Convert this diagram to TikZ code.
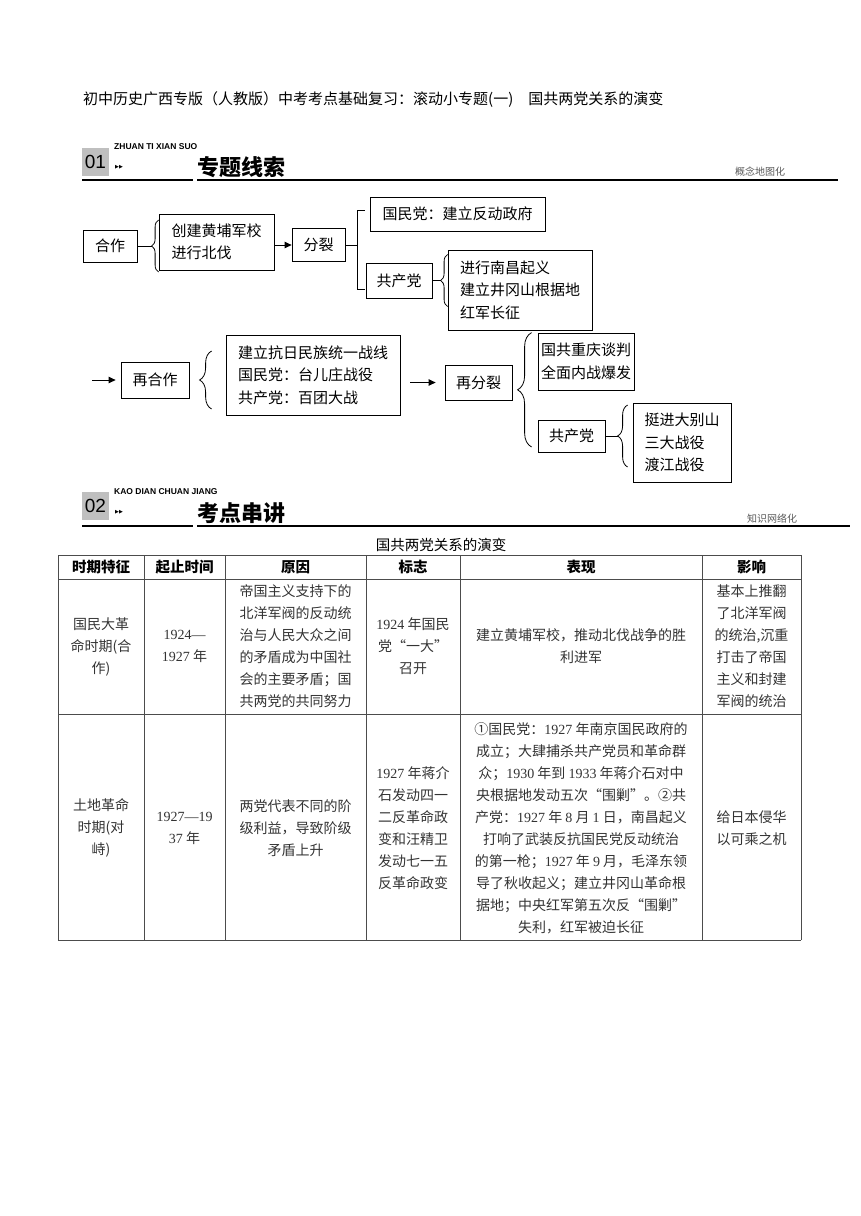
\documentclass[tikz,border=0pt]{standalone}
\usepackage{fontspec}
\setmainfont{Noto Sans CJK SC}
\newfontfamily\tmfont{Liberation Serif}
\newfontfamily\hdfont{Liberation Sans}
\newfontfamily\symfont{DejaVu Sans}
\usetikzlibrary{arrows.meta,decorations.pathreplacing,positioning}

\newcommand\lat[1]{{\tmfont #1}}

\begin{document}
\begin{tikzpicture}[x=1pt, y=-1pt,
    box/.style={draw, line width=0.8pt, inner sep=0pt, align=left, font=\fontsize{15}{22.5}\selectfont},
    arr/.style={-{Triangle[length=7pt,width=6.5pt]}, line width=1pt},
    brc/.style={decorate, decoration={brace, amplitude=#1}, line width=0.8pt},
    secbox/.style={fill=gray!50, minimum width=27, minimum height=28, inner sep=0pt, font=\hdfont\fontsize{19}{19}\selectfont},
    secpin/.style={anchor=west, inner sep=0pt, font=\hdfont\bfseries\fontsize{8.5}{9}\selectfont},
    sectitle/.style={anchor=base west, inner sep=0pt, font=\bfseries\fontsize{22}{22}\selectfont},
    sectag/.style={inner sep=0pt, text=black!65, font=\fontsize{10}{10}\selectfont},
    secline/.style={line width=1.5pt},
    th/.style={inner sep=0pt, font=\bfseries\fontsize{14.5}{20}\selectfont},
    td/.style={inner sep=0pt, align=center, text=black!80, font=\fontsize{14}{22}\selectfont}]
    \useasboundingbox (0,0) rectangle (860,1216);

    % Page title
    \node[anchor=west, inner sep=0pt, font=\fontsize{15}{15}\selectfont] (title) at (83,100)
        {初中历史广西专版（人教版）中考考点基础复习：滚动小专题(一)　国共两党关系的演变};

    % Section 01 header
    \node[secbox] (sec1) at (95.5,162) {01};
    \node[secpin] (pin1) at (114,147) {ZHUAN TI XIAN SUO};
    \node[anchor=west, inner sep=0pt, font=\symfont\fontsize{5}{5}\selectfont] (tri1) at (115,167) {▶▶};
    \node[sectitle] (name1) at (197,175) {专题线索};
    \node[sectag] (tag1) at (760,172) {概念地图化};
    \draw[secline] (82,180) -- (193,180);
    \draw[secline] (197,180) -- (838,180);

    % Part one: 合作 -> 分裂
    \node[box, minimum width=54, minimum height=32] (hezuo) at (110,246) {合作};
    \node[box, minimum width=115, minimum height=56] (huangpu) at (216.5,242) {创建黄埔军校\\进行北伐};
    \node[box, minimum width=53, minimum height=33] (fenlie) at (318.5,245) {分裂};
    \node[box, minimum width=175, minimum height=34] (gmd1) at (457.5,214) {国民党：建立反动政府};
    \node[box, minimum width=66, minimum height=35] (gcd1) at (399,280.5) {共产党};
    \node[box, minimum width=144, minimum height=80] (gcdact1) at (520,290) {进行南昌起义\\建立井冈山根据地\\红军长征};

    \coordinate (brA) at (hezuo.east -| huangpu.west);
    \draw[brc=7pt] ([yshift=-26]brA) -- ([yshift=26]brA);
    \draw[line width=0.8pt] (hezuo.east) -- ([xshift=-7]brA);
    \draw[arr] (fenlie.west -| huangpu.east) -- (fenlie.west);

    \coordinate (brB) at ([xshift=12]fenlie.east);
    \draw[line width=1pt] (fenlie.east) -- (brB);
    \draw[line width=1pt] ([xshift=-5,yshift=4]gmd1.west) -| (brB) |- ([xshift=-1,yshift=-9]gcd1.west);

    \coordinate (brC) at (gcd1.east -| gcdact1.west);
    \draw[brc=7pt] ([yshift=-26]brC) -- ([yshift=26]brC);
    \draw[line width=0.8pt] (gcd1.east) -- ([xshift=-7]brC);

    % Part two: 再合作 -> 再分裂
    \coordinate (st) at (92,380);
    \node[box, minimum width=68, minimum height=36] (zaihezuo) at (155,380) {再合作};
    \node[box, minimum width=174, minimum height=80] (kangri) at (313,375) {建立抗日民族统一战线\\国民党：台儿庄战役\\共产党：百团大战};
    \node[box, minimum width=67, minimum height=35] (zaifenlie) at (478.5,382.5) {再分裂};
    \node[box, minimum width=96, minimum height=57] (chongqing) at (586,361.5) {国共重庆谈判\\全面内战爆发};
    \node[box, minimum width=67, minimum height=32] (gcd2) at (571.5,436) {共产党};
    \node[box, minimum width=98, minimum height=79] (gcdact2) at (682,442.5) {挺进大别山\\三大战役\\渡江战役};

    \draw[arr, shorten >=5pt] (st) -- (zaihezuo.west);
    \coordinate (brD) at ([xshift=-14]zaihezuo.east -| kangri.west);
    \draw[brc=12pt] ([yshift=-29]brD) -- ([yshift=29]brD);
    \draw[arr, shorten <=10pt, shorten >=9pt] (zaifenlie.west -| kangri.east) -- (zaifenlie.west);

    \coordinate (brE) at ([xshift=-6]chongqing.west);
    \draw[brc=14pt] (brE |- 0,447) -- (brE |- chongqing.north);

    \coordinate (brF) at ([xshift=-5]gcd2.east -| gcdact2.west);
    \draw[brc=10pt] ([yshift=-31]brF) -- ([yshift=31]brF);
    \draw[line width=0.8pt] (gcd2.east) -- ([xshift=-10]brF);

    % Section 02 header
    \node[secbox] (sec2) at (95.5,506) {02};
    \node[secpin] (pin2) at (114,492) {KAO DIAN CHUAN JIANG};
    \node[anchor=west, inner sep=0pt, font=\symfont\fontsize{5}{5}\selectfont] (tri2) at (115,512) {▶▶};
    \node[sectitle] (name2) at (197,521) {考点串讲};
    \node[sectag] (tag2) at (772,519) {知识网络化};
    \draw[secline] (82,526) -- (193,526);
    \draw[secline] (197,526) -- (850,526);

    % Table
    \node[inner sep=0pt, font=\fontsize{14.5}{15}\selectfont] (tabtitle) at (441,545) {国共两党关系的演变};
    \foreach \x in {58,144,225,366,460,702,801}
        \draw[black!70, line width=0.9pt] (\x,555) -- (\x,940);
    \foreach \y in {555,579,714,940}
        \draw[black!70, line width=0.9pt] (58,\y) -- (801,\y);

    \foreach \x/\t [count=\i] in {101/时期特征, 184.5/起止时间, 295.5/原因, 413/标志, 581/表现, 751.5/影响}
        \node[th] (h\i) at (\x,567) {\t};

    \node[td] (r1c1) at (101,646.5) {国民大革\\命时期(合\\作)};
    \node[td] (r1c2) at (184.5,646.5) {\lat{1924—}\\\lat{1927} 年};
    \node[td] (r1c3) at (295.5,646.5) {帝国主义支持下的\\北洋军阀的反动统\\治与人民大众之间\\的矛盾成为中国社\\会的主要矛盾；国\\共两党的共同努力};
    \node[td] (r1c4) at (413,646.5) {\lat{1924} 年国民\\党“一大”\\召开};
    \node[td] (r1c5) at (581,646.5) {建立黄埔军校，推动北伐战争的胜\\利进军};
    \node[td] (r1c6) at (751.5,646.5) {基本上推翻\\了北洋军阀\\的统治,沉重\\打击了帝国\\主义和封建\\军阀的统治};

    \node[td] (r2c1) at (101,828) {土地革命\\时期(对\\峙)};
    \node[td] (r2c2) at (184.5,828) {\lat{1927—19}\\\lat{37} 年};
    \node[td] (r2c3) at (295.5,828) {两党代表不同的阶\\级利益，导致阶级\\矛盾上升};
    \node[td] (r2c4) at (413,828) {\lat{1927} 年蒋介\\石发动四一\\二反革命政\\变和汪精卫\\发动七一五\\反革命政变};
    \node[td] (r2c5) at (581,828) {①国民党：\lat{1927} 年南京国民政府的\\成立；大肆捕杀共产党员和革命群\\众；\lat{1930} 年到 \lat{1933} 年蒋介石对中\\央根据地发动五次“围剿”。②共\\产党：\lat{1927} 年 \lat{8} 月 \lat{1} 日，南昌起义\\打响了武装反抗国民党反动统治\\的第一枪；\lat{1927} 年 \lat{9} 月，毛泽东领\\导了秋收起义；建立井冈山革命根\\据地；中央红军第五次反“围剿”\\失利，红军被迫长征};
    \node[td] (r2c6) at (751.5,828) {给日本侵华\\以可乘之机};
\end{tikzpicture}
\end{document}
